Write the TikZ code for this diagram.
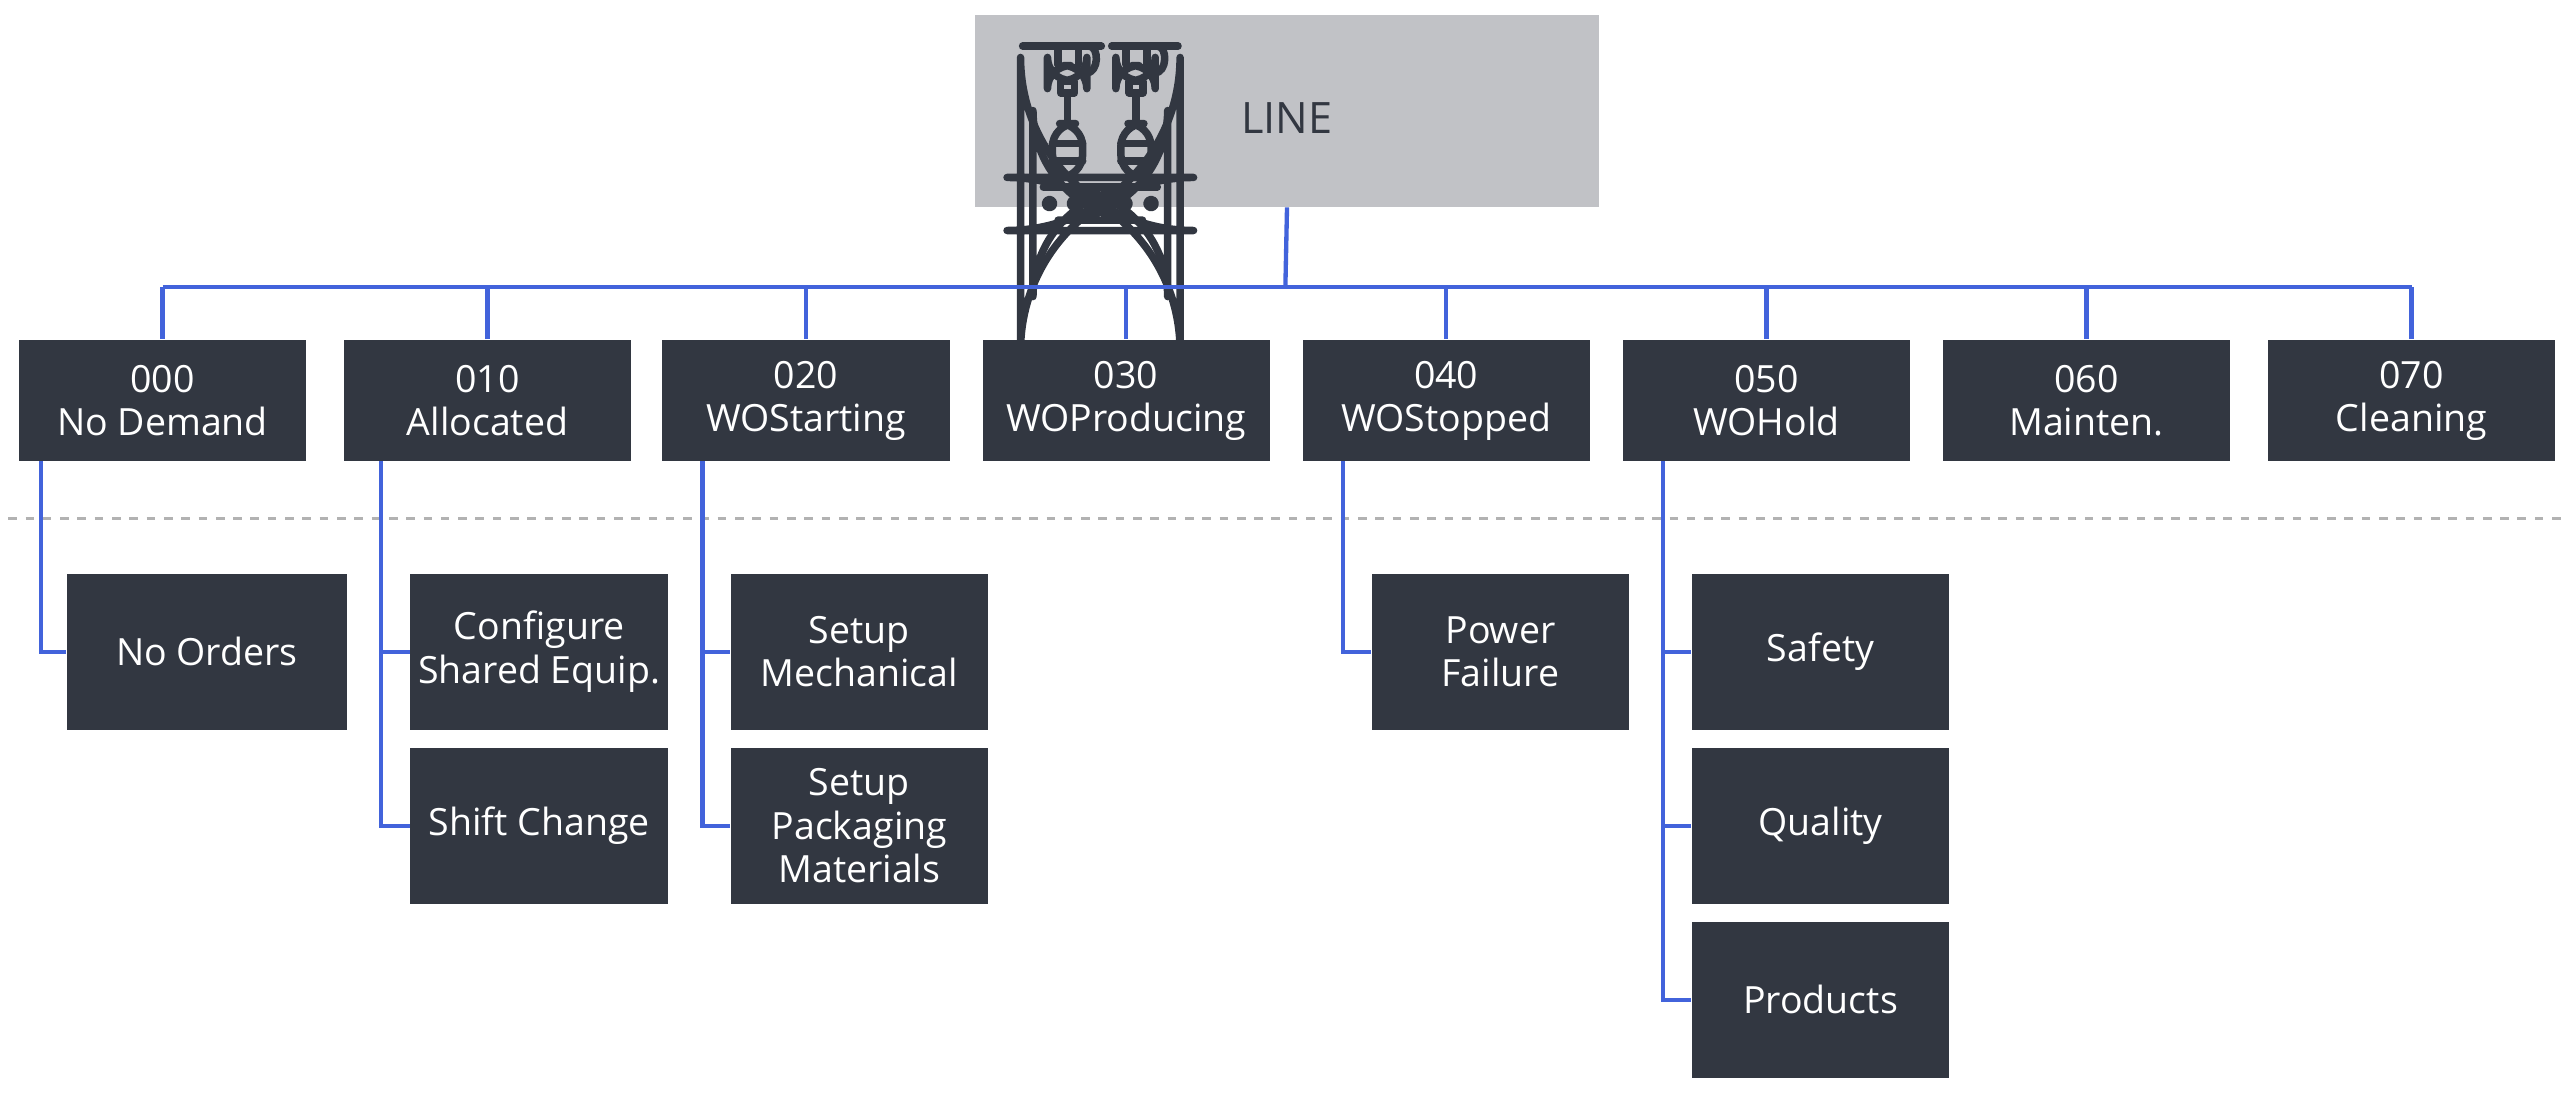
\documentclass[tikz,border=0pt]{standalone}
\usepackage{fontspec}
\setmainfont{Open Sans}
\definecolor{dk}{HTML}{323741}
\definecolor{bl}{HTML}{4263DB}
\definecolor{gr}{HTML}{C1C2C6}
\begin{document}
\begin{tikzpicture}[x=0.02cm,y=-0.02cm,
 box/.style={fill=dk,text=white,minimum height=1.48cm,align=center,inner sep=0pt,font=\fontsize{13}{15}\selectfont},
 top/.style={box,minimum width=3.5cm},
 sub/.style={box,minimum width=3.14cm,minimum height=1.9cm},
 con/.style={bl,line width=1.5pt},
 ic/.style={dk,line width=2.6pt,line cap=round,line join=round}]
\useasboundingbox (0,0) rectangle (1568,669);
\node[fill=gr,minimum width=7.6cm,minimum height=2.34cm,inner sep=0pt] (line) at (784,67.5) {};
\node[text=dk,font=\fontsize{15}{17}\selectfont] (lt) at (784,72) {LINE};
% icon
\begin{scope}[shift={(593.9,9.14)},x=0.00505cm,y=-0.00505cm]
\draw[ic] (115,75)--(305,75) (330,75)--(490,75);
\foreach \h in {0,165}{
 \begin{scope}[xshift=\h*0.00505cm]
 \draw[ic] (200,75)--(200,120) (250,75)--(250,120);
 \draw[ic,rounded corners=8] (175,122) rectangle (270,158);
 \draw[ic] (275,75) .. controls (300,75) and (300,140) .. (268,140);
 \draw[ic] (207,160) rectangle (240,188);
 \draw[ic] (223,188)--(223,262);
 \draw[ic,rounded corners=8] (187,262) rectangle (260,392);
 \draw[ic] (187,310)--(260,310) (187,352)--(260,352);
 \end{scope}}
\draw[ic,rounded corners=60] (110,392) rectangle (495,520);
\draw[ic] (165,415)--(305,415) (325,415)--(440,415);
\draw[ic,rounded corners=38] (140,415) rectangle (465,495);
\foreach \c in {180,240,300,362,425} \draw[ic] (\c,455) circle (10);
\end{scope}
% top row
\node[top] (s0) at (99,244) {000\\No Demand};
\node[top] (s1) at (297,244) {010\\Allocated};
\node[top] (s2) at (491,244) {020\\WOStarting};
\node[top] (s3) at (686,244) {030\\WOProducing};
\node[top] (s4) at (881,244) {040\\WOStopped};
\node[top] (s5) at (1076,244) {050\\WOHold};
\node[top] (s6) at (1271,244) {060\\Mainten.};
\node[top] (s7) at (1469,244) {070\\Cleaning};
\coordinate (bus) at (783,175);
\draw[con] (line.south) -- (bus);
\foreach \n in {s0,s1,s2,s3,s4,s5,s6,s7}
 \draw[con] (\n.north) -- (\n.north |- bus);
\draw[con] (s0.north |- bus) -- (s7.north |- bus);
\draw[gray!60,dashed,line width=1.2pt] (5,316) -- (1563,316);
% children
\node[sub,minimum width=3.42cm] (c0) at (126,397) {No Orders};
\node[sub] (c1a) at (328.5,397) {Configure\\Shared Equip.};
\node[sub] (c1b) at (328.5,503) {Shift Change};
\node[sub] (c2a) at (523.5,397) {Setup\\Mechanical};
\node[sub] (c2b) at (523.5,503) {Setup\\Packaging\\Materials};
\node[sub] (c4a) at (914,397) {Power\\Failure};
\node[sub] (c5a) at (1109,397) {Safety};
\node[sub] (c5b) at (1109,503) {Quality};
\node[sub] (c5c) at (1109,609) {Products};
\draw[con] (25,281) |- (c0.west);
\draw[con] (232,281) |- (c1b.west);
\draw[con] (232,397) -- (c1a.west);
\draw[con] (428,281) |- (c2b.west);
\draw[con] (428,397) -- (c2a.west);
\draw[con] (818,281) |- (c4a.west);
\draw[con] (1013,281) |- (c5c.west);
\draw[con] (1013,397) -- (c5a.west);
\draw[con] (1013,503) -- (c5b.west);
\end{tikzpicture}
\end{document}
